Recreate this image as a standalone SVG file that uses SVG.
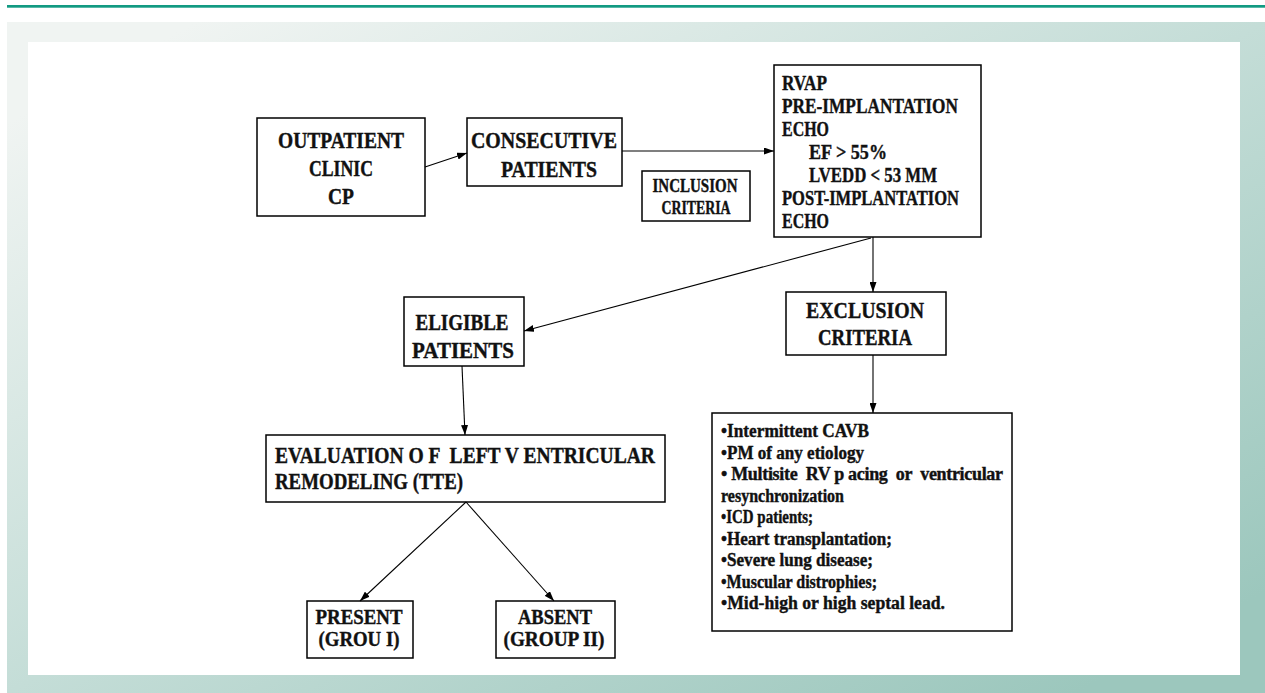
<svg xmlns="http://www.w3.org/2000/svg" width="1265" height="693" viewBox="0 0 1265 693">
<defs>
<linearGradient id="frame" x1="0.15" y1="0" x2="1" y2="0.85">
<stop offset="0" stop-color="#f0f4f2"/>
<stop offset="0.5" stop-color="#c4ddd7"/>
<stop offset="1" stop-color="#9cc7bd"/>
</linearGradient>
<marker id="arr" markerUnits="userSpaceOnUse" markerWidth="10" markerHeight="7" refX="10" refY="3.5" orient="auto">
<path d="M0,0 L10,3.5 L0,7 z" fill="#000"/>
</marker>
<style>
.box{fill:#fff;stroke:#000;stroke-width:1.5}
.t{font-family:"Liberation Serif","Times New Roman",serif;font-weight:bold;fill:#111;stroke:#111;stroke-width:0.4}
.c{text-anchor:middle}
.f23{font-size:23px}
.f22{font-size:22px}
.f21{font-size:21px}
.f19{font-size:19px}
.f18{font-size:18px}
.conn path{fill:none;stroke:#000;stroke-width:1.1;marker-end:url(#arr)}
</style>
</defs>
<rect x="0" y="0" width="1265" height="693" fill="#fff"/>
<rect x="7" y="5" width="1258" height="2.7" fill="#129a82"/>
<rect x="7" y="22" width="1258" height="671" fill="url(#frame)"/>
<rect x="28" y="42" width="1212" height="633" fill="#fff"/>

<g id="outpatient">
<rect class="box" x="257" y="118" width="168" height="98"/>
<text class="t c f23" x="341" y="148" textLength="126" lengthAdjust="spacingAndGlyphs">OUTPATIENT</text>
<text class="t c f23" x="341" y="176" textLength="64" lengthAdjust="spacingAndGlyphs">CLINIC</text>
<text class="t c f23" x="341" y="204" textLength="26" lengthAdjust="spacingAndGlyphs">CP</text>
</g>

<g id="consecutive">
<rect class="box" x="467" y="118" width="155" height="68"/>
<text class="t c f23" x="544" y="148" textLength="146" lengthAdjust="spacingAndGlyphs">CONSECUTIVE</text>
<text class="t c f23" x="549" y="177" textLength="96" lengthAdjust="spacingAndGlyphs">PATIENTS</text>
</g>

<g id="inclusion">
<rect class="box" x="642" y="171" width="108" height="50"/>
<text class="t c f19" x="695" y="192" textLength="85" lengthAdjust="spacingAndGlyphs">INCLUSION</text>
<text class="t c f19" x="696" y="214" textLength="69" lengthAdjust="spacingAndGlyphs">CRITERIA</text>
</g>

<g id="rvap">
<rect class="box" x="774" y="65" width="207" height="172"/>
<text class="t f22" x="782" y="90" textLength="45" lengthAdjust="spacingAndGlyphs">RVAP</text>
<text class="t f22" x="782" y="113" textLength="176" lengthAdjust="spacingAndGlyphs">PRE-IMPLANTATION</text>
<text class="t f22" x="782" y="136" textLength="47" lengthAdjust="spacingAndGlyphs">ECHO</text>
<text class="t f22" x="809" y="159" textLength="78" lengthAdjust="spacingAndGlyphs">EF &gt; 55%</text>
<text class="t f22" x="809" y="182" textLength="128" lengthAdjust="spacingAndGlyphs">LVEDD &lt; 53 MM</text>
<text class="t f22" x="782" y="205" textLength="177" lengthAdjust="spacingAndGlyphs">POST-IMPLANTATION</text>
<text class="t f22" x="782" y="228" textLength="47" lengthAdjust="spacingAndGlyphs">ECHO</text>
</g>

<g id="eligible">
<rect class="box" x="404" y="297" width="120" height="69"/>
<text class="t c f23" x="462" y="330" textLength="93" lengthAdjust="spacingAndGlyphs">ELIGIBLE</text>
<text class="t c f23" x="463" y="358" textLength="102" lengthAdjust="spacingAndGlyphs">PATIENTS</text>
</g>

<g id="exclusion">
<rect class="box" x="786" y="292" width="160" height="63"/>
<text class="t c f23" x="865" y="318" textLength="118" lengthAdjust="spacingAndGlyphs">EXCLUSION</text>
<text class="t c f23" x="865" y="345" textLength="94" lengthAdjust="spacingAndGlyphs">CRITERIA</text>
</g>

<g id="evaluation">
<rect class="box" x="266" y="435" width="399" height="67"/>
<text class="t f23" x="275" y="463" textLength="380" lengthAdjust="spacingAndGlyphs" xml:space="preserve">EVALUATION O F  LEFT V ENTRICULAR</text>
<text class="t f23" x="275" y="489" textLength="188" lengthAdjust="spacingAndGlyphs">REMODELING (TTE)</text>
</g>

<g id="present">
<rect class="box" x="307" y="601" width="106" height="57"/>
<text class="t c f21" x="359" y="624" textLength="87" lengthAdjust="spacingAndGlyphs">PRESENT</text>
<text class="t c f21" x="359" y="646" textLength="81" lengthAdjust="spacingAndGlyphs">(GROU I)</text>
</g>

<g id="absent">
<rect class="box" x="496" y="601" width="119" height="57"/>
<text class="t c f21" x="555" y="624" textLength="74" lengthAdjust="spacingAndGlyphs">ABSENT</text>
<text class="t c f21" x="554" y="646" textLength="101" lengthAdjust="spacingAndGlyphs">(GROUP II)</text>
</g>

<g id="exclusion-list">
<rect class="box" x="712" y="413" width="300" height="218"/>
<text class="t f18" x="721" y="437" textLength="148" lengthAdjust="spacingAndGlyphs">•Intermittent CAVB</text>
<text class="t f18" x="721" y="458.5" textLength="143" lengthAdjust="spacingAndGlyphs">•PM of any etiology</text>
<text class="t f18" x="721" y="480" textLength="282" lengthAdjust="spacing" xml:space="preserve">• Multisite  RV p acing  or  ventricular</text>
<text class="t f18" x="721" y="501.5" textLength="123" lengthAdjust="spacingAndGlyphs">resynchronization</text>
<text class="t f18" x="721" y="523" textLength="92" lengthAdjust="spacingAndGlyphs">•ICD patients;</text>
<text class="t f18" x="721" y="544.5" textLength="171" lengthAdjust="spacingAndGlyphs">•Heart transplantation;</text>
<text class="t f18" x="721" y="566" textLength="152" lengthAdjust="spacingAndGlyphs">•Severe lung disease;</text>
<text class="t f18" x="721" y="587.5" textLength="156" lengthAdjust="spacingAndGlyphs">•Muscular distrophies;</text>
<text class="t f18" x="721" y="609" textLength="224" lengthAdjust="spacingAndGlyphs">•Mid-high or high septal lead.</text>
</g>

<g id="connectors" class="conn">
<path d="M425,167 L467,153"/>
<path d="M622,151 L774,151"/>
<path d="M873,237 L873,292"/>
<path d="M871,238 L524,331"/>
<path d="M873,355 L873,413"/>
<path d="M462,366 L465,435"/>
<path d="M466,502 L360,601"/>
<path d="M466,502 L554,601"/>
</g>
</svg>
